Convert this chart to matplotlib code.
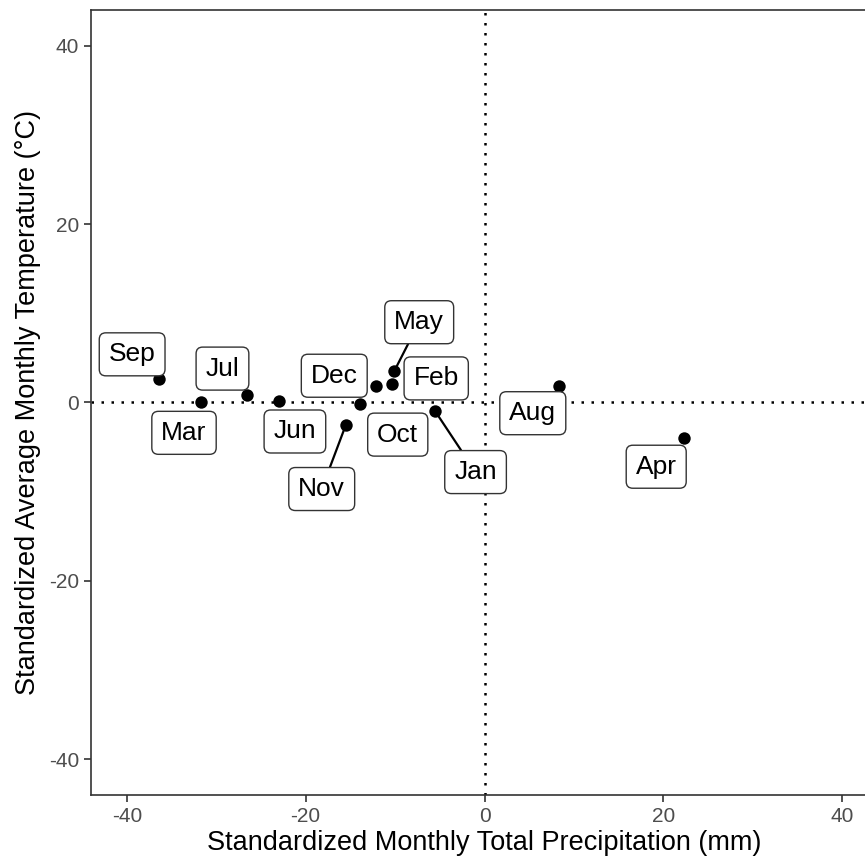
import numpy as np
import matplotlib.pyplot as plt

plt.rcParams['font.family'] = ['Liberation Sans', 'DejaVu Sans']
plt.rcParams['axes.unicode_minus'] = False

# monthly anomalies
months = ['Sep', 'Mar', 'Jul', 'Jun', 'Nov', 'Oct', 'Dec', 'Feb', 'May', 'Jan', 'Aug', 'Apr']
precip = [-36.4, -31.7, -26.6, -23.0, -15.5, -13.9, -12.1, -10.3, -10.1, -5.5, 8.3, 22.3]
temp = [2.6, 0.0, 0.8, 0.2, -2.5, -0.2, 1.9, 2.1, 3.5, -1.0, 1.9, -4.0]

# where the repelled labels ended up (data units)
label_x = [-39.4, -33.6, -29.3, -21.2, -18.2, -9.7, -16.8, -5.4, -7.3, -1.0, 5.4, 19.2]
label_y = [5.4, -3.4, 3.8, -3.25, -9.7, -3.6, 3.0, 2.7, 9.0, -7.8, -1.2, -7.2]
has_segment = [False, False, False, False, True, False, False, False, True, True, False, False]

fig = plt.figure(figsize=(8.65, 8.63), dpi=100)
ax = fig.add_axes([91/865, 1 - 795/863, 787/865, 785/863])

ax.axhline(0, color='black', linestyle=(0, (1, 3)), linewidth=1.8, zorder=1)
ax.axvline(0, color='black', linestyle=(0, (1, 3)), linewidth=1.8, zorder=1)

ax.scatter(precip, temp, s=80, color='black', zorder=3, linewidths=0)

for m, px, py, lx, ly, seg in zip(months, precip, temp, label_x, label_y, has_segment):
  arrow = dict(arrowstyle='-', color='black', lw=1.6, shrinkA=0, shrinkB=0) if seg else None
  ax.annotate(m, xy=(px, py), xytext=(lx, ly), textcoords='data',
              ha='center', va='center', fontsize=19, color='black', zorder=4,
              bbox=dict(boxstyle='round,pad=0.36,rounding_size=0.25', fc='white', ec='#333333', lw=1.0),
              arrowprops=arrow)

ax.set_xlim(-44, 44)
ax.set_ylim(-44, 44)
ax.set_xticks([-40, -20, 0, 20, 40])
ax.set_yticks([-40, -20, 0, 20, 40])
ax.tick_params(axis='both', colors='#333333', labelcolor='#4D4D4D', labelsize=15, length=5, width=1.2)

for side in ax.spines.values():
  side.set_color('#333333')
  side.set_linewidth(1.2)

ax.set_xlabel('Standardized Monthly Total Precipitation (mm)', fontsize=19.5, labelpad=3)
ax.set_ylabel('Standardized Average Monthly Temperature (°C)', fontsize=19.5, labelpad=6)

fig.savefig('out.png', dpi=100)
